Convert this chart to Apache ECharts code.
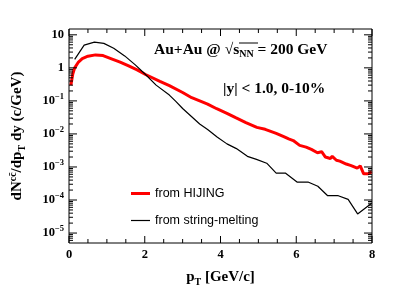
<!DOCTYPE html>
<html><head><meta charset="utf-8">
<script src="https://cdn.jsdelivr.net/npm/echarts@6/dist/echarts.min.js"></script>
<style>html,body{margin:0;padding:0;background:#fff}#c{width:397px;height:292px}</style>
</head><body><div id="c"></div>
<script>
// ---- data ----
const seriesNames = ['from HIJING', 'from string-melting'];
const pTHijing = [0.05,0.1,0.15,0.25,0.35,0.5,0.7,0.9,1.14,1.35,1.56,1.8,2.02,2.4,2.65,3.0,3.24,3.5,3.66,3.9,4.17,4.4,4.67,4.96,5.18,5.47,5.67,5.8,5.92,6.09,6.26,6.4,6.56,6.67,6.77,6.9,6.95,7.06,7.15,7.32,7.45,7.61,7.69,7.78,7.9,7.99];
const valHijing = [0.30,0.65,1.0,1.5,1.9,2.25,2.47,2.35,1.85,1.5,1.17,0.87,0.63,0.39,0.29,0.18,0.125,0.095,0.08,0.058,0.042,0.031,0.022,0.0158,0.0138,0.0104,0.0083,0.0071,0.0063,0.0045,0.0040,0.0034,0.0027,0.0029,0.0020,0.0018,0.0021,0.0016,0.0015,0.00123,0.0011,0.00092,0.00108,0.00062,0.00062,0.00072];
const pTMelt = [0.15,0.4,0.67,0.92,1.18,1.47,1.75,2.02,2.3,2.65,2.82,3.0,3.24,3.45,3.66,3.91,4.17,4.42,4.71,4.95,5.22,5.47,5.72,6.02,6.31,6.57,6.83,7.11,7.37,7.62,7.99];
const valMelt = [1.8,4.9,6.0,5.5,3.9,2.3,1.23,0.63,0.30,0.15,0.097,0.059,0.033,0.020,0.0137,0.0081,0.005,0.0036,0.0021,0.0017,0.0013,0.00065,0.00065,0.00035,0.00035,0.00026,0.000135,0.000135,0.000105,0.000038,0.00008];
const yRange = [5e-6, 15];
const xRange = [0, 8];
const xMajorStep = 2, xMinorStep = 0.5;

// tick positions (axis decoration), drawn through the axes' scales
const xTickData = [];
for (let i = 0; i <= 16; i++) { const v = i * xMinorStep; xTickData.push([v, 1, (v % xMajorStep === 0) ? 7 : 4]); }
const yTickData = [];
[-6,-5,-4,-3,-2,-1,0,1].forEach(e => { for (let k = 1; k <= 9; k++) { const v = +(k * Math.pow(10, e)).toPrecision(3); if (v > yRange[0] && v < yRange[1]) yTickData.push([1, v, k === 1 ? 8 : 4]); } });

const serif = 'Liberation Serif';
const chart = echarts.init(document.getElementById('c'), null, {renderer:'canvas'});
const yLabelFmt = v => {
  const l = Math.log10(v), e = Math.round(l);
  if (Math.abs(l - e) > 1e-6) return '';
  if (e === 1) return '{b|10}';
  if (e === 0) return '{b|1}';
  return '{b|10}{s|\u2212' + (-e) + '}';
};
const yRich = {
  b:{fontFamily:serif,fontWeight:'bold',fontSize:12.5,color:'#000'},
  s:{fontFamily:serif,fontWeight:'bold',fontSize:8.5,color:'#000',padding:[0,0,8,0]}
};
const tickStyle = {stroke:'#000', lineWidth:1};
const option = {
  animation:false,
  backgroundColor:'#fff',
  grid:{left:55,right:25,top:29,bottom:44,containLabel:false,show:true,borderColor:'#000',borderWidth:1,backgroundColor:'transparent'},
  xAxis:{type:'value',min:xRange[0],max:xRange[1],interval:xMajorStep,
    axisLine:{show:false,onZero:false}, splitLine:{show:false}, axisTick:{show:false},
    axisLabel:{show:true,fontFamily:serif,fontWeight:'bold',fontSize:12.5,color:'#000',margin:5},
    name:'{p|p}{t|T}{p| [GeV/c]}', nameLocation:'middle', nameGap:25,
    nameTextStyle:{rich:{
      p:{fontFamily:serif,fontWeight:'bold',fontSize:15,color:'#000'},
      t:{fontFamily:serif,fontWeight:'bold',fontSize:10,color:'#000',padding:[9,0,0,0]}
    }}},
  yAxis:{type:'log',logBase:10,min:yRange[0],max:yRange[1],
    axisLine:{show:false,onZero:false}, splitLine:{show:false}, axisTick:{show:false},
    axisLabel:{show:true,formatter:yLabelFmt,rich:yRich,margin:5},
    name:'{a|dN}{sup|cc\u0304}{a|/dp}{sub|T}{a| dy (c/GeV)}',
    nameLocation:'middle', nameGap:42, nameRotate:90,
    nameTextStyle:{rich:{
      a:{fontFamily:serif,fontWeight:'bold',fontSize:15,color:'#000'},
      sup:{fontFamily:serif,fontWeight:'bold',fontSize:10,color:'#000',padding:[0,0,9,0]},
      sub:{fontFamily:serif,fontWeight:'bold',fontSize:10,color:'#000',padding:[9,0,0,0]}
    }}},
  legend:{show:true,orient:'vertical',left:126,top:182,itemWidth:19,itemHeight:14,itemGap:14,
    symbolKeepAspect:true,
    data:[{name:seriesNames[0],icon:'path://M0,0H19V3H0Z'},{name:seriesNames[1],icon:'path://M0,0H19V1.2H0Z'}],
    textStyle:{fontFamily:'Liberation Sans',fontSize:12.5,color:'#000'}},
  series:[
    {name:'xticks',type:'custom',clip:false,silent:true,z:5,data:xTickData,
     renderItem:(params, api) => {
       const v = api.value(0), len = api.value(2);
       const b = api.coord([v, yRange[0]]), t = api.coord([v, yRange[1]]);
       return {type:'group',children:[
         {type:'line',shape:{x1:b[0],y1:b[1],x2:b[0],y2:b[1]-len},style:tickStyle},
         {type:'line',shape:{x1:t[0],y1:t[1],x2:t[0],y2:t[1]+len},style:tickStyle}]};
     }},
    {name:'yticks',type:'custom',clip:false,silent:true,z:5,data:yTickData,
     renderItem:(params, api) => {
       const v = api.value(1), len = api.value(2);
       const l = api.coord([xRange[0], v]), r = api.coord([xRange[1], v]);
       return {type:'group',children:[
         {type:'line',shape:{x1:l[0],y1:l[1],x2:l[0]+len,y2:l[1]},style:tickStyle},
         {type:'line',shape:{x1:r[0],y1:r[1],x2:r[0]-len,y2:r[1]},style:tickStyle}]};
     }},
    {name:seriesNames[0],type:'line',symbol:'none',z:3,
     lineStyle:{color:'#ff0000',width:3},itemStyle:{color:'#ff0000'},
     data:pTHijing.map((p,i)=>[p,valHijing[i]])},
    {name:seriesNames[1],type:'line',symbol:'none',z:3,
     lineStyle:{color:'#000',width:1.2},itemStyle:{color:'#000'},
     data:pTMelt.map((p,i)=>[p,valMelt[i]])}
  ],
  graphic:[
    {type:'text',left:154,top:42,style:{
      text:'{a|Au+Au @ }{r|\u221A}{a|s}{sub|NN}{a| = 200 GeV}',
      rich:{
        a:{fontFamily:serif,fontWeight:'bold',fontSize:15.5,fill:'#000'},
        r:{fontFamily:serif,fontSize:15.5,fill:'#000'},
        sub:{fontFamily:serif,fontWeight:'bold',fontSize:10,fill:'#000',padding:[8,0,0,0]}
      }}},
    {type:'line',shape:{x1:239,y1:43,x2:258,y2:43},style:{stroke:'#000',lineWidth:1}},
    {type:'text',left:223,top:81,style:{text:'|y| < 1.0, 0-10%',
      fontFamily:serif,fontWeight:'bold',fontSize:15.5,fill:'#000'}}
  ]
};
chart.setOption(option);
</script></body></html>
